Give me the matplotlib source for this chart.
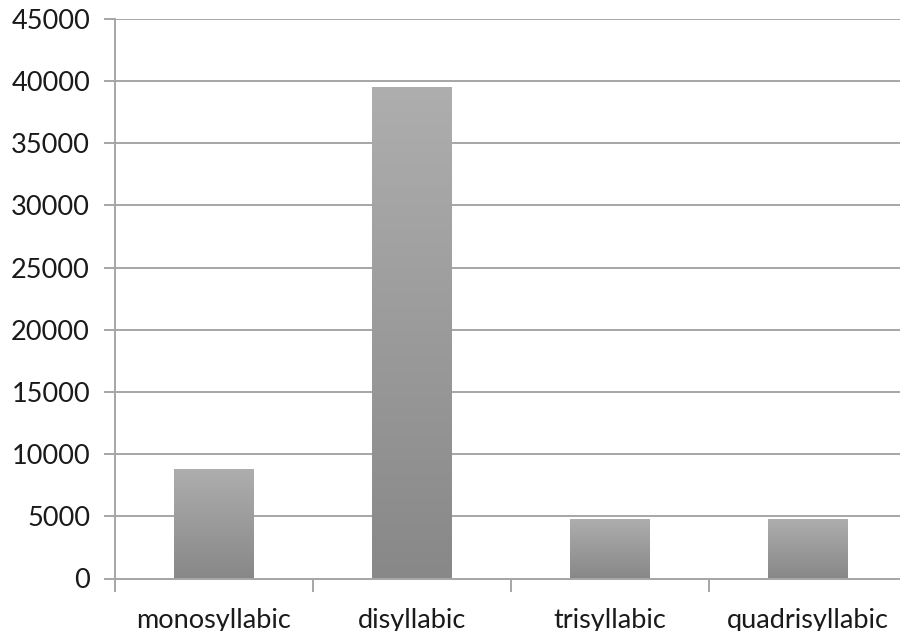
import numpy as np
import matplotlib
matplotlib.use("Agg")
import matplotlib.pyplot as plt
from matplotlib.colors import LinearSegmentedColormap

plt.rcParams['font.family'] = ['Lato', 'DejaVu Sans']

categories = ['monosyllabic', 'disyllabic', 'trisyllabic', 'quadrisyllabic']
counts = [8800, 39500, 4800, 4800]
y_ticks = [0, 5000, 10000, 15000, 20000, 25000, 30000, 35000, 40000, 45000]

grid_col = '#a6a6a6'

fig = plt.figure(figsize=(9, 6.31), dpi=100)
ax = fig.add_axes([115 / 900, 52.5 / 631, 792 / 900, 559.5 / 631])

x = np.arange(len(categories))
bars = ax.bar(x, counts, width=0.4, color='none', edgecolor='none', zorder=3)

# vertical grey gradient inside each bar, lighter at the top
cmap = LinearSegmentedColormap.from_list('bargrad', ['#888888', '#aeaeae'])
grad = np.linspace(0, 1, 256).reshape(-1, 1)
for b in bars:
    x0, y0 = b.get_x(), b.get_y()
    x1, y1 = x0 + b.get_width(), y0 + b.get_height()
    im = ax.imshow(grad, extent=[x0, x1, y0, y1], origin='lower', aspect='auto',
                   cmap=cmap, zorder=3, interpolation='bilinear')
    im.set_clip_path(b)

ax.set_xlim(-0.5, len(categories) - 0.5)
ax.set_ylim(0, 45000)
ax.set_yticks(y_ticks)
ax.set_yticklabels([str(v) for v in y_ticks])
ax.yaxis.grid(True, color=grid_col, linewidth=1.4, zorder=0)
ax.set_axisbelow(True)

# category labels centred, tick marks between categories
ax.set_xticks(x)
ax.set_xticklabels(categories)
ax.set_xticks(np.arange(len(categories) + 1) - 0.5, minor=True)
ax.tick_params(axis='x', which='major', length=0, pad=21, labelsize=19.5, colors='#1a1a1a')
ax.tick_params(axis='x', which='minor', length=9, width=1.4, color=grid_col, direction='out')
ax.tick_params(axis='y', length=8, width=1.4, color=grid_col, direction='out', pad=10,
               labelsize=19.5, labelcolor='#1a1a1a')

for s in ['top', 'right']:
    ax.spines[s].set_visible(False)
for s in ['left', 'bottom']:
    ax.spines[s].set_color(grid_col)
    ax.spines[s].set_linewidth(1.4)

fig.savefig('out.png', dpi=100)
